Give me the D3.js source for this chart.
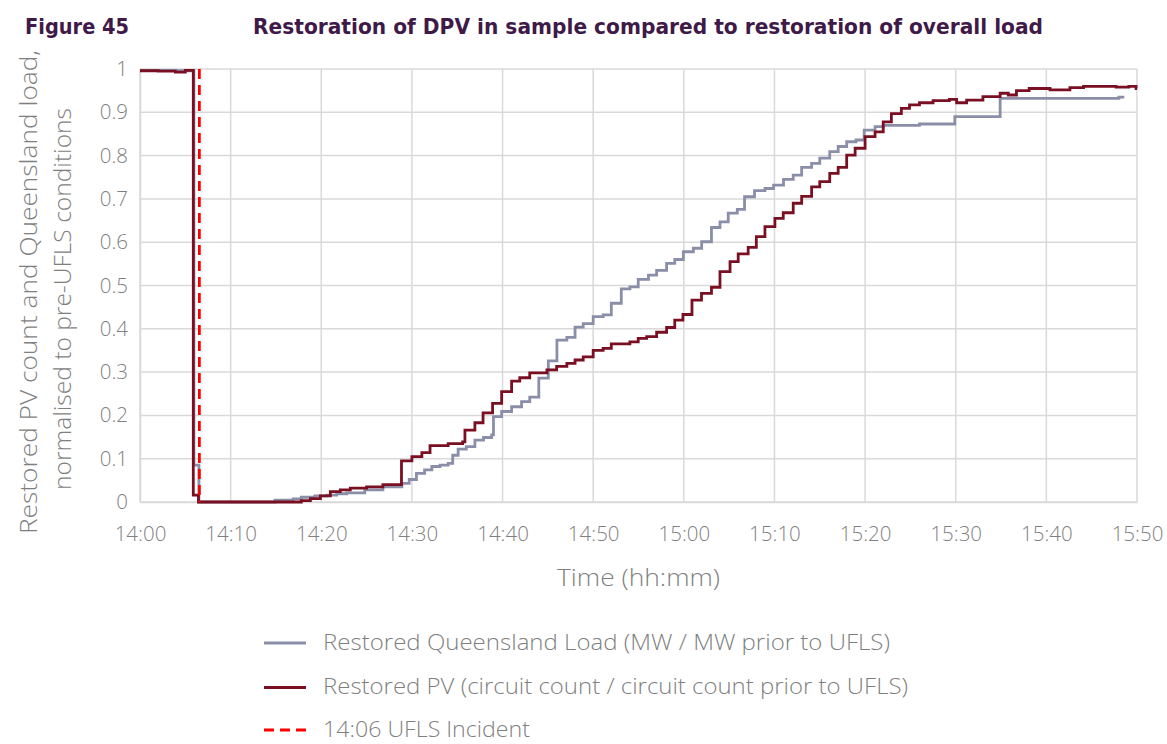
<!DOCTYPE html>
<html>
<head>
<meta charset="utf-8">
<script src="https://cdn.jsdelivr.net/npm/d3@7"></script>
<style>
  html, body { margin: 0; padding: 0; background: #ffffff; }
  svg { display: block; }
</style>
</head>
<body>
<svg id="chart" width="1167" height="744"></svg>
<script>
// Minutes after 14:00 and normalised level, drawn as step-after lines
const loadSteps = [
  [0, 0.997], [3.9, 0.996], [5.95, 0.085], [6.5, 0],
  [14.9, 0.004], [16.9, 0.007], [17.8, 0.011], [19.3, 0.014], [20.6, 0.016],
  [21.7, 0.019], [22.8, 0.021], [24.8, 0.028], [26.8, 0.035], [28.9, 0.043],
  [29.7, 0.052], [30.5, 0.066], [31.4, 0.074], [32.2, 0.082], [33.1, 0.085],
  [34.0, 0.089], [34.5, 0.108], [35.1, 0.122], [36.0, 0.128], [36.95, 0.143],
  [37.9, 0.149], [38.8, 0.155], [39.0, 0.197], [39.9, 0.209], [41.0, 0.220],
  [42.1, 0.232], [43.0, 0.242], [44.0, 0.286], [45.05, 0.326], [46.0, 0.374],
  [47.1, 0.380], [48.0, 0.404], [48.9, 0.412], [50.0, 0.428], [51.1, 0.432],
  [52.0, 0.459], [53.1, 0.492], [54.05, 0.497], [54.97, 0.514], [56.1, 0.524],
  [57.0, 0.535], [58.1, 0.551], [59.0, 0.560], [59.95, 0.578], [61.05, 0.586],
  [61.97, 0.601], [63.05, 0.634], [63.99, 0.647], [64.9, 0.667], [65.9, 0.676],
  [66.7, 0.705], [67.8, 0.719], [68.95, 0.724], [69.9, 0.732], [71.0, 0.745],
  [72.07, 0.755], [73.0, 0.773], [74.1, 0.782], [75.0, 0.794], [76.1, 0.809],
  [77.03, 0.821], [77.97, 0.832], [79.0, 0.836], [79.9, 0.859], [81.1, 0.867],
  [82.0, 0.870], [86.0, 0.873], [89.9, 0.890], [94.9, 0.932], [108.0, 0.935],
  [108.6, 0.935]
];

const pvSteps = [
  [0, 0.996], [2, 0.995], [3.9, 0.993], [5, 0.997], [5.88, 0.016], [6.45, 0],
  [17.8, 0.003], [18.8, 0.008], [19.9, 0.014], [21.0, 0.024], [22.1, 0.028],
  [23.2, 0.032], [25.0, 0.035], [26.8, 0.040], [28.85, 0.095], [30.0, 0.105],
  [31.1, 0.114], [32.0, 0.130], [34.0, 0.135], [35.6, 0.139], [35.85, 0.166],
  [36.95, 0.183], [37.85, 0.206], [38.9, 0.228], [39.9, 0.255], [41.0, 0.279],
  [41.9, 0.287], [43.0, 0.298], [44.9, 0.305], [45.97, 0.313], [47.1, 0.320],
  [48.0, 0.328], [48.9, 0.335], [50.0, 0.350], [51.1, 0.355], [52.0, 0.365],
  [54.05, 0.370], [54.97, 0.378], [55.9, 0.382], [57.0, 0.392], [58.1, 0.403],
  [59.0, 0.420], [59.9, 0.433], [60.9, 0.466], [61.95, 0.482], [63.05, 0.496],
  [63.99, 0.532], [65.1, 0.555], [66.0, 0.573], [67.1, 0.588], [68.0, 0.613],
  [68.95, 0.636], [70.05, 0.655], [70.97, 0.668], [72.07, 0.690], [73.0, 0.706],
  [74.1, 0.728], [75.0, 0.740], [76.1, 0.759], [77.03, 0.773], [77.97, 0.801],
  [78.9, 0.817], [80.0, 0.844], [81.1, 0.855], [82.0, 0.878], [82.9, 0.897],
  [84.0, 0.909], [84.9, 0.917], [86.0, 0.922], [87.5, 0.927], [89.3, 0.930],
  [90.1, 0.922], [91.2, 0.928], [93.0, 0.936], [94.9, 0.944], [95.8, 0.940],
  [96.7, 0.950], [98.1, 0.955], [100.4, 0.952], [102.6, 0.957], [104.1, 0.960],
  [107.7, 0.958], [109.1, 0.960], [109.9, 0.955], [110, 0.955]
];

const incidentMinute = 6.55;
const yTicks = [0, 0.1, 0.2, 0.3, 0.4, 0.5, 0.6, 0.7, 0.8, 0.9, 1];
const xTickMinutes = [0, 10, 20, 30, 40, 50, 60, 70, 80, 90, 100, 110];

const legendLabels = [
  "Restored Queensland Load (MW / MW prior to UFLS)",
  "Restored PV (circuit count / circuit count prior to UFLS)",
  "14:06 UFLS Incident"
];

const base = new Date(2021, 4, 25, 14, 0, 0);
const toTime = m => new Date(base.getTime() + m * 60000);

const svg = d3.select("#chart");
const plotLeft = 140, plotRight = 1137, plotTop = 69, plotBottom = 502;

const x = d3.scaleTime().domain([toTime(0), toTime(110)]).range([plotLeft, plotRight]);
const y = d3.scaleLinear().domain([0, 1]).range([plotBottom, plotTop]);

const grey = "#7f7f7f";
const gridCol = "#d9d9d9";
const font = "'Open Sans', 'Noto Sans', sans-serif";
const titleFont = "'Liberation Sans Narrow', 'DejaVu Sans Condensed', sans-serif";

// Gridlines
const grid = svg.append("g");
grid.selectAll("line.h").data(yTicks).join("line").attr("class", "h")
  .attr("x1", plotLeft).attr("x2", plotRight)
  .attr("y1", d => y(d)).attr("y2", d => y(d))
  .attr("stroke", gridCol).attr("stroke-width", 1.5);
grid.selectAll("line.v").data(xTickMinutes).join("line").attr("class", "v")
  .attr("x1", d => x(toTime(d))).attr("x2", d => x(toTime(d)))
  .attr("y1", plotTop).attr("y2", plotBottom)
  .attr("stroke", gridCol).attr("stroke-width", 1.5);

// Axes
const xAxis = d3.axisBottom(x)
  .tickValues(xTickMinutes.map(toTime))
  .tickFormat(d3.timeFormat("%H:%M"))
  .tickSize(0).tickPadding(24);
const gx = svg.append("g").attr("transform", `translate(0,${plotBottom})`).call(xAxis);
gx.select(".domain").attr("stroke", gridCol).attr("stroke-width", 1.5);
gx.selectAll("text").attr("fill", grey).style("font-family", font)
  .style("font-size", "20.5px").style("font-weight", 300);

const yAxis = d3.axisLeft(y)
  .tickValues(yTicks)
  .tickFormat(d => (d === 0 || d === 1) ? String(d) : d.toFixed(1))
  .tickSize(0).tickPadding(12);
const gy = svg.append("g").attr("transform", `translate(${plotLeft},0)`).call(yAxis);
gy.select(".domain").attr("stroke", gridCol).attr("stroke-width", 1.5);
gy.selectAll("text").attr("fill", grey).style("font-family", font)
  .style("font-size", "20.5px").style("font-weight", 300);

// Series
const line = d3.line()
  .x(d => x(toTime(d[0])))
  .y(d => y(d[1]))
  .curve(d3.curveStepAfter);

svg.append("path").datum(loadSteps)
  .attr("d", line).attr("fill", "none")
  .attr("stroke", "#8a8ea8").attr("stroke-width", 2.8);

svg.append("path").datum(pvSteps)
  .attr("d", line).attr("fill", "none")
  .attr("stroke", "#7a0f22").attr("stroke-width", 2.8);

// Incident marker
svg.append("line")
  .attr("x1", x(toTime(incidentMinute))).attr("x2", x(toTime(incidentMinute)))
  .attr("y1", plotTop).attr("y2", plotBottom)
  .attr("stroke", "#ff0000").attr("stroke-width", 2.8)
  .attr("stroke-dasharray", "10,6");

// Titles
svg.append("text").attr("x", 25).attr("y", 34)
  .text("Figure 45")
  .attr("fill", "#3f1a49").style("font-family", titleFont)
  .style("font-weight", "bold").style("font-size", "22px")
  .attr("textLength", 104).attr("lengthAdjust", "spacingAndGlyphs");

svg.append("text").attr("x", 253).attr("y", 34)
  .text("Restoration of DPV in sample compared to restoration of overall load")
  .attr("fill", "#3f1a49").style("font-family", titleFont)
  .style("font-weight", "bold").style("font-size", "22px")
  .attr("textLength", 790).attr("lengthAdjust", "spacingAndGlyphs");

svg.append("text")
  .attr("x", (plotLeft + plotRight) / 2).attr("y", 586)
  .attr("text-anchor", "middle")
  .text("Time (hh:mm)")
  .attr("fill", grey).style("font-family", font)
  .style("font-size", "24px").style("font-weight", 300)
  .attr("textLength", 163).attr("lengthAdjust", "spacingAndGlyphs");

const yTitle = svg.append("text")
  .attr("transform", "rotate(-90)")
  .attr("text-anchor", "middle")
  .attr("fill", grey).style("font-family", font)
  .style("font-size", "24px").style("font-weight", 300);
yTitle.append("tspan").attr("x", -292).attr("y", 37)
  .attr("textLength", 484).attr("lengthAdjust", "spacingAndGlyphs")
  .text("Restored PV count and Queensland load,");
yTitle.append("tspan").attr("x", -299).attr("y", 71)
  .attr("textLength", 382).attr("lengthAdjust", "spacingAndGlyphs")
  .text("normalised to pre-UFLS conditions");

// Legend
const legendStyles = [
  { color: "#8a8ea8", dash: null },
  { color: "#7a0f22", dash: null },
  { color: "#ff0000", dash: "10,6" }
];
const legendRows = [643, 687.5, 730];
const legendWidths = [567, 585, 207];
const legend = svg.append("g");
legendLabels.forEach((label, i) => {
  const ly = legendRows[i];
  legend.append("line")
    .attr("x1", 264).attr("x2", 306).attr("y1", ly).attr("y2", ly)
    .attr("stroke", legendStyles[i].color).attr("stroke-width", 2.8)
    .attr("stroke-dasharray", legendStyles[i].dash);
  legend.append("text")
    .attr("x", 323).attr("y", ly + 6.5)
    .text(label)
    .attr("fill", grey).style("font-family", font)
    .style("font-size", "22px").style("font-weight", 300)
    .attr("textLength", legendWidths[i]).attr("lengthAdjust", "spacingAndGlyphs");
});
</script>
</body>
</html>
